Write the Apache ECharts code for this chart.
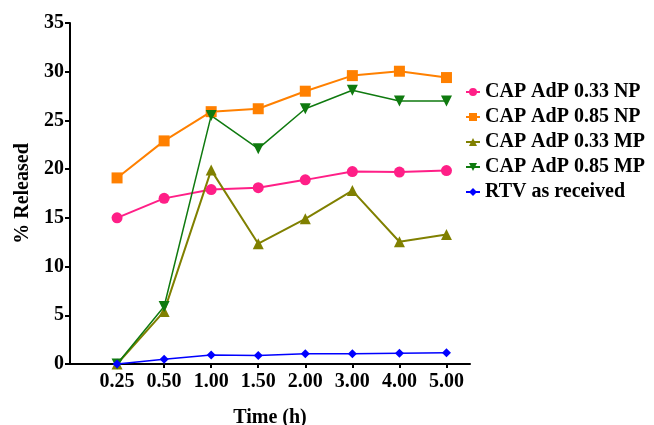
<!DOCTYPE html>
<html>
<head>
<meta charset="utf-8">
<script src="https://cdn.jsdelivr.net/npm/echarts@6/dist/echarts.min.js"></script>
<style>html,body{margin:0;padding:0;background:#fff}#c{width:654px;height:425px}</style>
</head>
<body>
<div id="c"></div>
<script>
const timeLabels = ['0.25', '0.50', '1.00', '1.50', '2.00', '3.00', '4.00', '5.00'];
const cap033NP = [15.0, 17.0, 17.9, 18.1, 18.9, 19.75, 19.7, 19.85];
const cap085NP = [19.1, 22.9, 25.9, 26.2, 28.0, 29.6, 30.05, 29.4];
const cap033MP = [0, 5.4, 19.9, 12.35, 14.9, 17.8, 12.55, 13.3];
const cap085MP = [0, 5.9, 25.5, 22.1, 26.2, 28.1, 27.0, 27.0];
const rtv = [0, 0.48, 0.92, 0.87, 1.05, 1.05, 1.1, 1.15];
const yTicks = [0, 5, 10, 15, 20, 25, 30, 35];

const FONT = 'Liberation Serif';
const toPts = arr => arr.map((v, i) => [i + 1, v]);
const positions = timeLabels.map((_, i) => i + 1);

function mk(name, data, color, symbol, size, width) {
  return {
    name, type: 'line', data: toPts(data), symbol, symbolSize: size,
    lineStyle: { color, width }, itemStyle: { color }, color,
    emphasis: { disabled: true }, animation: false
  };
}

const chart = echarts.init(document.getElementById('c'));
chart.setOption({
  animation: false,
  grid: { left: 70, right: 184, top: 23, bottom: 61, containLabel: false, outerBoundsMode: 'none' },
  xAxis: {
    type: 'value', min: 0, max: 8.5,
    name: 'Time (h)', nameLocation: 'middle', nameGap: 44,
    nameTextStyle: { fontFamily: FONT, fontWeight: 'bold', fontSize: 20, color: '#000' },
    axisLine: { show: true, onZero: false, lineStyle: { color: '#000', width: 2 } },
    axisTick: { show: true, customValues: positions, length: 4, lineStyle: { color: '#000', width: 2 } },
    axisLabel: {
      customValues: positions, margin: 8,
      fontFamily: FONT, fontWeight: 'bold', fontSize: 20, color: '#000',
      formatter: v => timeLabels[Math.round(v) - 1] || ''
    },
    splitLine: { show: false }
  },
  yAxis: {
    type: 'value', min: 0, max: 35, interval: 5,
    name: '% Released', nameLocation: 'middle', nameGap: 37, nameRotate: 90,
    nameTextStyle: { fontFamily: FONT, fontWeight: 'bold', fontSize: 20, color: '#000' },
    axisLine: { show: true, lineStyle: { color: '#000', width: 2 } },
    axisTick: { show: true, length: 5, lineStyle: { color: '#000', width: 2 } },
    axisLabel: {
      margin: 6, fontFamily: FONT, fontWeight: 'bold', fontSize: 20, color: '#000',
      formatter: v => yTicks.includes(v) ? String(v) : ''
    },
    splitLine: { show: false }
  },
  legend: {
    orient: 'vertical', left: 460, top: 77, itemGap: 5,
    itemWidth: 14, itemHeight: 10,
    textStyle: { fontFamily: FONT, fontWeight: 'bold', fontSize: 20, color: '#000' },
    data: ['CAP AdP 0.33 NP', 'CAP AdP 0.85 NP', 'CAP AdP 0.33 MP', 'CAP AdP 0.85 MP', 'RTV as received']
  },
  series: [
    mk('CAP AdP 0.33 NP', cap033NP, '#ff1f87', 'circle', 11, 2),
    mk('CAP AdP 0.85 NP', cap085NP, '#ff8000', 'rect', 11, 2),
    mk('CAP AdP 0.33 MP', cap033MP, '#808000', 'triangle', 11, 2),
    mk('CAP AdP 0.85 MP', cap085MP, '#0f7a0f', 'path://M0,0 L10,0 L5,10 Z', 11, 1.5),
    mk('RTV as received', rtv, '#0000ff', 'diamond', 9, 1.5)
  ]
});
</script>
</body>
</html>
